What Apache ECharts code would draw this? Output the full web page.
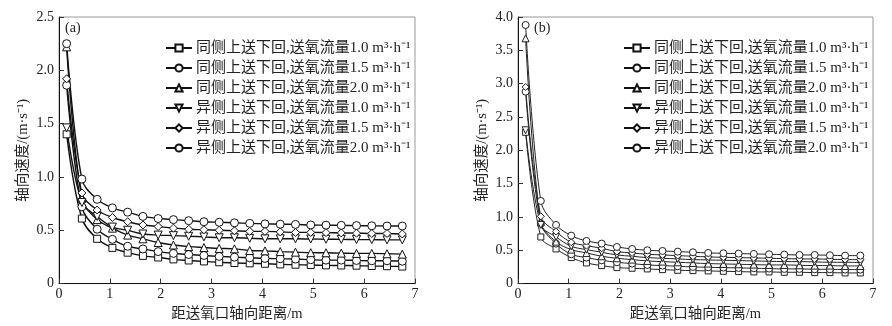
<!DOCTYPE html>
<html>
<head>
<meta charset="utf-8">
<script src="https://cdn.jsdelivr.net/npm/echarts@6/dist/echarts.min.js"></script>
<style>
html,body{margin:0;padding:0;background:#fff;}
#c{width:892px;height:326px;}
</style>
</head>
<body>
<div id="c"></div>
<script>
// ---- data ----
var xValues = [0.15,0.45,0.75,1.05,1.35,1.65,1.95,2.25,2.55,2.85,3.15,3.45,3.75,4.05,4.35,4.65,4.95,5.25,5.55,5.85,6.15,6.45,6.75];
var seriesNames = [
  '同侧上送下回,送氧流量1.0 m³·h⁻¹',
  '同侧上送下回,送氧流量1.5 m³·h⁻¹',
  '同侧上送下回,送氧流量2.0 m³·h⁻¹',
  '异侧上送下回,送氧流量1.0 m³·h⁻¹',
  '异侧上送下回,送氧流量1.5 m³·h⁻¹',
  '异侧上送下回,送氧流量2.0 m³·h⁻¹'
];
// panel (a)
var a1 = [1.40,0.61,0.42,0.335,0.29,0.26,0.245,0.227,0.217,0.208,0.20,0.193,0.19,0.186,0.18,0.177,0.174,0.171,0.17,0.168,0.165,0.163,0.16];
var a2 = [1.86,0.72,0.51,0.415,0.35,0.325,0.30,0.283,0.273,0.264,0.255,0.248,0.242,0.236,0.233,0.23,0.224,0.22,0.22,0.217,0.214,0.214,0.21];
var a3 = [2.22,0.80,0.60,0.52,0.455,0.42,0.385,0.362,0.347,0.338,0.33,0.326,0.31,0.307,0.30,0.295,0.29,0.289,0.286,0.283,0.283,0.28,0.276];
var a4 = [1.46,0.76,0.63,0.53,0.50,0.465,0.455,0.45,0.444,0.438,0.43,0.43,0.425,0.42,0.42,0.42,0.418,0.416,0.415,0.413,0.412,0.41,0.41];
var a5 = [1.92,0.85,0.69,0.62,0.58,0.55,0.535,0.52,0.51,0.505,0.50,0.495,0.49,0.49,0.485,0.48,0.48,0.478,0.475,0.473,0.47,0.47,0.465];
var a6 = [2.25,0.98,0.79,0.71,0.67,0.63,0.61,0.60,0.59,0.58,0.575,0.57,0.565,0.56,0.557,0.555,0.55,0.548,0.546,0.544,0.542,0.54,0.54];
// panel (b)
var b1 = [2.27,0.70,0.52,0.39,0.31,0.27,0.24,0.23,0.22,0.21,0.20,0.195,0.19,0.185,0.18,0.175,0.175,0.17,0.17,0.165,0.165,0.16,0.16];
var b2 = [2.88,0.90,0.60,0.44,0.39,0.35,0.32,0.30,0.28,0.27,0.26,0.25,0.245,0.24,0.235,0.23,0.225,0.22,0.22,0.215,0.215,0.21,0.21];
var b3 = [3.68,0.92,0.63,0.51,0.46,0.41,0.38,0.36,0.34,0.33,0.32,0.31,0.30,0.295,0.29,0.285,0.28,0.28,0.275,0.27,0.27,0.265,0.265];
var b4 = [2.30,0.88,0.70,0.56,0.51,0.47,0.43,0.41,0.39,0.38,0.37,0.36,0.355,0.35,0.345,0.34,0.335,0.33,0.33,0.325,0.32,0.32,0.315];
var b5 = [2.95,1.01,0.78,0.62,0.57,0.53,0.48,0.46,0.44,0.43,0.42,0.41,0.40,0.395,0.39,0.385,0.38,0.375,0.37,0.37,0.365,0.36,0.36];
var b6 = [3.88,1.24,0.88,0.72,0.64,0.60,0.55,0.52,0.50,0.49,0.48,0.47,0.46,0.455,0.45,0.445,0.44,0.435,0.43,0.43,0.425,0.42,0.42];
var xTicks = [0,1,2,3,4,5,6,7];
var panelLabels = ['(a)','(b)'];
var xAxisName = '距送氧口轴向距离/m';
var yAxisName = '轴向速度/(m·s⁻¹)';

// ---- chart ----
var FONT = "'Liberation Serif','Noto Sans CJK SC',serif";
var TXT = '#222';
var symbols = ['rect','circle','triangle','triangle','path://M0,-1L1,0L0,1L-1,0Z','circle'];
var rotates = [0,0,0,180,0,0];

function pairs(arr){ return arr.map(function(v,i){ return [xValues[i], v]; }); }

var dataA = [a1,a2,a3,a4,a5,a6];
var dataB = [b1,b2,b3,b4,b5,b6];

var series = [];
function addSeries(datasets, idx, lw, size, color){
  datasets.forEach(function(d,i){
    series.push({
      name: seriesNames[i],
      type: 'line',
      xAxisIndex: idx, yAxisIndex: idx,
      data: pairs(d),
      smooth: 0.35,
      symbol: symbols[i],
      symbolRotate: rotates[i],
      symbolSize: (symbols[i]==='rect') ? size-1 : size,
      showAllSymbol: true,
      lineStyle: {color: color, width: lw},
      itemStyle: {color: '#fff', borderColor: color, borderWidth: 1},
      emphasis: {disabled: true},
      animation: false,
      z: 3
    });
  });
}
addSeries(dataA, 0, 1.4, 8, '#111');
addSeries(dataB, 1, 1.0, 7, '#222');

function yAxis(idx, max){
  return {
    gridIndex: idx, type: 'value', min: 0, max: max, interval: 0.5,
    name: yAxisName, nameLocation: 'middle', nameGap: 29,
    nameTextStyle: {fontFamily: FONT, fontSize: 14.5, color: TXT},
    axisLine: {show: true, lineStyle: {color: '#111', width: 1}},
    axisTick: {show: true, inside: true, length: 5, lineStyle: {color: '#333'}},
    axisLabel: {fontFamily: FONT, fontSize: 14, color: TXT, margin: 5,
      formatter: function(v){ return v === 0 ? '0' : v.toFixed(1); }},
    splitLine: {show: false}
  };
}
function xAxis(idx){
  return {
    gridIndex: idx, type: 'value', min: xTicks[0], max: xTicks[xTicks.length-1], interval: 1,
    name: xAxisName, nameLocation: 'middle', nameGap: 19,
    nameTextStyle: {fontFamily: FONT, fontSize: 14.5, color: TXT},
    axisLine: {show: true, onZero: false, lineStyle: {color: '#111', width: 1}},
    axisTick: {show: true, inside: true, length: 5, lineStyle: {color: '#333'}},
    axisLabel: {fontFamily: FONT, fontSize: 14, color: TXT, margin: 4},
    splitLine: {show: false}
  };
}

function legend(left){
  return {
    data: seriesNames.slice(),
    orient: 'vertical',
    left: left, top: 35,
    itemWidth: 26, itemHeight: 9, itemGap: 4,
    textStyle: {fontFamily: FONT, fontSize: 15, color: TXT, lineHeight: 16, padding: [0,0,0,-1]},
    selectedMode: false,
    inactiveColor: '#111'
  };
}

var chart = echarts.init(document.getElementById('c'), null, {renderer: 'canvas'});
chart.setOption({
  backgroundColor: '#fff',
  animation: false,
  grid: [
    {left: 59, right: 477, top: 17, bottom: 40, show: true, borderColor: '#999', borderWidth: 1, backgroundColor: 'transparent'},
    {left: 518, right: 19, top: 17, bottom: 40, show: true, borderColor: '#999', borderWidth: 1, backgroundColor: 'transparent'}
  ],
  xAxis: [xAxis(0), xAxis(1)],
  yAxis: [yAxis(0, 2.5), yAxis(1, 4.0)],
  legend: [legend(160), legend(618)],
  graphic: [
    {type: 'text', left: 65, top: 21, style: {text: panelLabels[0], font: "14px 'Liberation Serif'", fill: TXT}},
    {type: 'text', left: 534, top: 21, style: {text: panelLabels[1], font: "14px 'Liberation Serif'", fill: TXT}}
  ],
  series: series
});
</script>
</body>
</html>
